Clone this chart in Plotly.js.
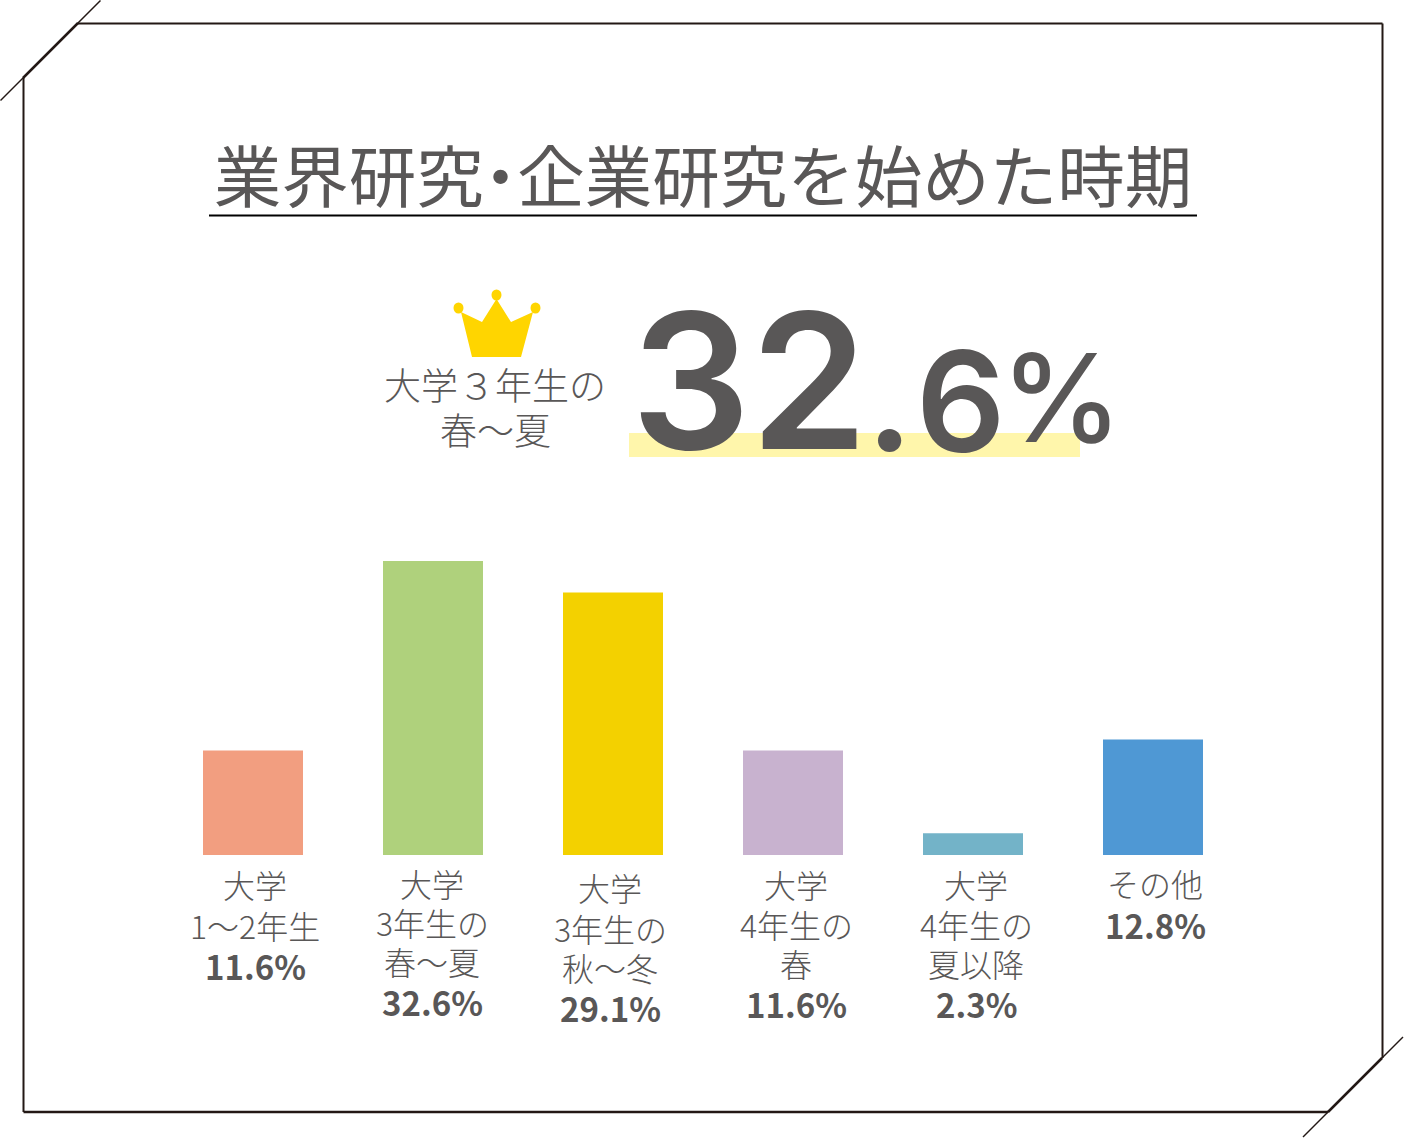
<!DOCTYPE html>
<html lang="ja">
<head>
<meta charset="utf-8">
<script src="https://cdn.plot.ly/plotly-3.0.1.min.js"></script>
<style>html,body{margin:0;padding:0;background:#fff}#chart{width:1404px;height:1138px}</style>
</head>
<body>
<div id="chart"></div>
<script>
const categories = ['c1','c2','c3','c4','c5','c6'];
const values = [11.6, 32.6, 29.1, 11.6, 2.4, 12.8];
const barColors = ['#F29E80','#AFD17C','#F3D100','#C8B2CF','#73B3C8','#4F98D4'];
const labelLines = [
  ['大学','1〜2年生'],
  ['大学','3年生の','春〜夏'],
  ['大学','3年生の','秋〜冬'],
  ['大学','4年生の','春'],
  ['大学','4年生の','夏以降'],
  ['その他']
];
const valueLabels = ['11.6%','32.6%','29.1%','11.6%','2.3%','12.8%'];
const labelShift = [2,-1,-3,3,3,2];
const labelRows = [
  [884,925,966],
  [883,922,961,1002],
  [887,928,967,1008],
  [884,924,963,1004],
  [884,924,963,1004],
  [883,925]
];
const W = 1404, H = 1138;
const X = p => p / W, Y = p => 1 - p / H;
const ink = '#595757', frame = '#231815';
const cjk = '"Noto Sans CJK JP","Noto Sans",sans-serif';
const ann = [];
categories.forEach((c,i)=>{
  labelLines[i].concat([valueLabels[i]]).forEach((t,k,a)=>{
    const isVal = k === a.length-1;
    ann.push({xref:'x',yref:'paper',x:c,xshift:labelShift[i],y:Y(labelRows[i][k]),text:t,showarrow:false,
      xanchor:'center',yanchor:'middle',
      font:{family:cjk,size:isVal?33:32,color:ink,weight:isVal?700:300}});
  });
});
const free = (t,x,y,size,weight,family)=>({xref:'paper',yref:'paper',x:X(x),y:Y(y),text:t,showarrow:false,
  xanchor:'center',yanchor:'middle',font:{family:family||cjk,size:size,color:ink,weight:weight}});
ann.push(free('大学３年生の',495,384,37,300));
ann.push(free('春〜夏',495,429,37,300));
ann.push(free('32',749,380,188,600,'Inter'));
ann.push(free('.',889,397,148,600,'Inter'));
ann.push(free('6',961,401,140,600,'Inter'));
ann.push(free('%',1061,397,122,500,'Inter'));

const line = (x0,y0,x1,y1,w,c)=>({type:'line',xref:'paper',yref:'paper',x0:X(x0),y0:Y(y0),x1:X(x1),y1:Y(y1),
  line:{color:c||frame,width:w}});
const shapes = [
  line(78,23.5,1382.5,23.5,2), line(1382.5,23.5,1382.5,1058,2), line(1328,1112,23.5,1112,2.5), line(23.5,1112,23.5,78,2),
  line(0.5,100.5,100.5,0.5,1.5), line(23,78,78,23,2.5),
  line(1303,1137,1403,1037,1.5), line(1328,1112,1382,1058,2.5),
  line(209,215.5,1197,215.5,2,'#000'),
  {type:'rect',xref:'paper',yref:'paper',x0:X(629),x1:X(1080),y0:Y(433),y1:Y(457),fillcolor:'#FFF6AB',line:{width:0}},
  {type:'path',xref:'paper',yref:'paper',fillcolor:'#FFD500',line:{width:0},
   path:`M${X(472)} ${Y(357)}L${X(461)} ${Y(312)}L${X(482)} ${Y(322)}L${X(496.5)} ${Y(299)}L${X(511)} ${Y(322)}L${X(533)} ${Y(312)}L${X(521)} ${Y(357)}Z`},
  ...[[496.5,295],[458.5,308],[535.5,308]].map(([x,y])=>({type:'circle',xref:'paper',yref:'paper',
    x0:X(x-5),x1:X(x+5),y0:Y(y-5.5),y1:Y(y+5.5),fillcolor:'#FFD500',line:{width:0}}))
];
Plotly.newPlot('chart',[{
  type:'bar',x:categories,y:values,width:100/180,marker:{color:barColors,line:{width:0}},hoverinfo:'skip'
}],{
  width:W,height:H,margin:{l:0,r:0,t:0,b:0},paper_bgcolor:'#fff',plot_bgcolor:'rgba(0,0,0,0)',showlegend:false,
  title:{text:'業界研<span style="letter-spacing:-17px">究・</span>企業研究を始めた時期',x:703/W,xanchor:'center',y:Y(178),yanchor:'middle',
    font:{family:cjk,size:67.5,color:ink,weight:400}},
  xaxis:{domain:[163/W,1243/W],type:'category',categoryorder:'array',categoryarray:categories,range:[-0.5,5.5],
    showticklabels:false,showgrid:false,zeroline:false,showline:false,ticks:''},
  yaxis:{domain:[(H-855)/H,(H-561)/H],range:[0,32.6],showticklabels:false,showgrid:false,zeroline:false,showline:false,ticks:''},
  annotations:ann,shapes:shapes
},{displayModeBar:false,staticPlot:true});
</script>
</body>
</html>
